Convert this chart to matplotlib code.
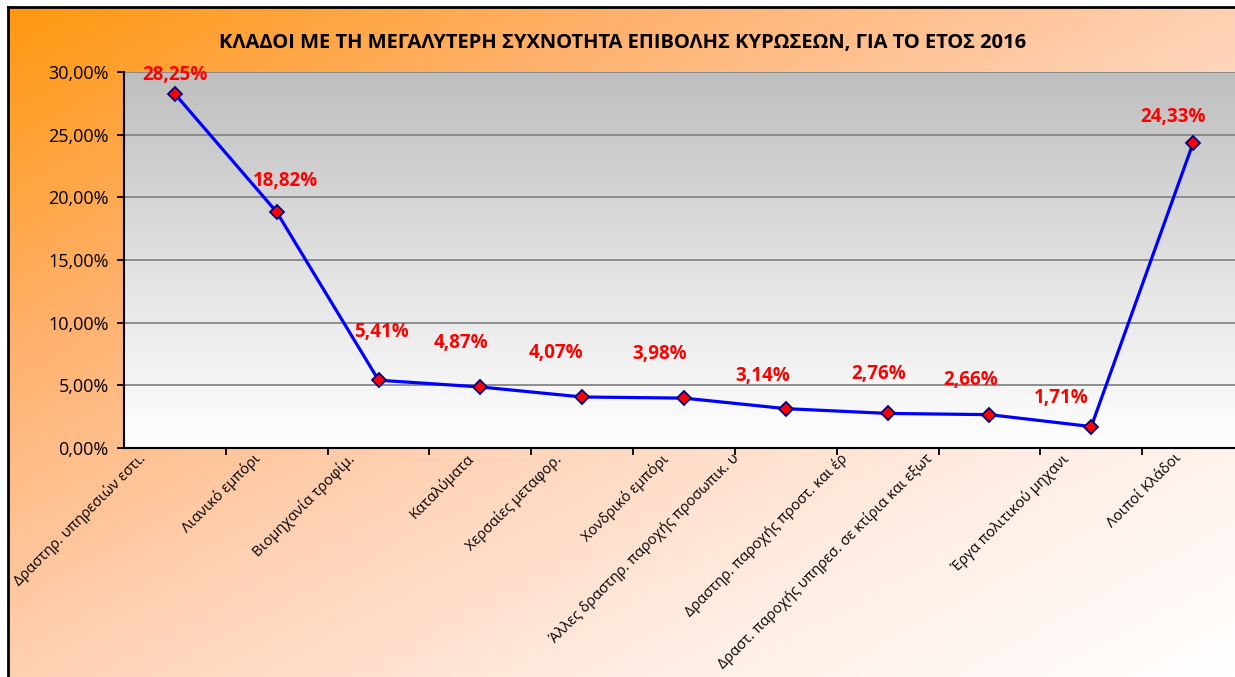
import numpy as np
import matplotlib
matplotlib.use('Agg')
import matplotlib.pyplot as plt
from matplotlib.colors import LinearSegmentedColormap
import matplotlib.transforms as mtransforms
from matplotlib.ticker import FuncFormatter, FixedLocator

plt.rcParams['font.family'] = ['Open Sans', 'DejaVu Sans']

title = "ΚΛΑΔΟΙ ΜΕ ΤΗ ΜΕΓΑΛΥΤΕΡΗ ΣΥΧΝΟΤΗΤΑ ΕΠΙΒΟΛΗΣ ΚΥΡΩΣΕΩΝ, ΓΙΑ ΤΟ ΕΤΟΣ 2016"
categories = [
    "Δραστηρ. υπηρεσιών εστι.",
    "Λιανικό εμπόρι",
    "Βιομηχανία τροφίμ.",
    "Καταλύματα",
    "Χερσαίες μεταφορ.",
    "Χονδρικό εμπόρι",
    "Άλλες δραστηρ. παροχής προσωπικ. υ",
    "Δραστηρ. παροχής προστ. και έρ",
    "Δραστ. παροχής υπηρεσ. σε κτίρια και εξωτ",
    "Έργα πολιτικού μηχανι",
    "Λοιποί Κλάδοι",
]
values = [28.25, 18.82, 5.41, 4.87, 4.07, 3.98, 3.14, 2.76, 2.66, 1.71, 24.33]
yticks = [0, 5, 10, 15, 20, 25, 30]

# layout: data label offsets (pixels, relative to point)
label_offsets = [(0, 19), (9, 31), (3, 48), (-19, 44), (-26, 44), (-24, 44),
                 (-23, 33), (-9, 39), (-19, 35), (-30, 29), (-20, 26)]
# layout: horizontal shift of each rotated category label (pixels)
xlabel_shift = [-37, -24, -31, -14, -28, -23, -54, -48, -65, -30, -19]

W, H = 1235, 677
fig = plt.figure(figsize=(W / 100, H / 100), dpi=100)
fig.patch.set_facecolor('white')

# background frame with diagonal gradient
bg = fig.add_axes([8 / W, 0, 1 - 8 / W, (H - 7) / H])
nx, ny = 400, 250
u = np.linspace(0, 1, nx)[None, :]
v = np.linspace(0, 1, ny)[:, None]
t = 0.5 * u + 0.5 * v
cmap_bg = LinearSegmentedColormap.from_list(
    'bg', [(0, '#FF9810'), (0.25, '#FFB06A'), (0.5, '#FFD0B2'), (0.75, '#FFEDE3'), (1, '#FFFFFF')])
bg.imshow(t, cmap=cmap_bg, extent=[0, 1, 0, 1], origin='upper', aspect='auto',
          vmin=0, vmax=1, interpolation='bilinear')
bg.set_xlim(0, 1)
bg.set_ylim(0, 1)
bg.set_xticks([])
bg.set_yticks([])
for s in ['right', 'bottom']:
    bg.spines[s].set_visible(False)
for s in ['left', 'top']:
    bg.spines[s].set_color('black')
    bg.spines[s].set_linewidth(2)

fig.text(623 / W, 1 - 43 / H, title, ha='center', va='center',
         fontsize=14.5, fontweight='bold', color='black')

# main plot area
ax = fig.add_axes([124 / W, 229 / H, 1120 / W, 376 / H])
ax.set_xlim(-0.5, len(categories) - 0.5)
ax.set_ylim(0, 30)
ax.patch.set_alpha(0)
grad = np.linspace(0, 1, 256)[:, None]
cmap_pa = LinearSegmentedColormap.from_list('pa', [(0, '#BEBEBE'), (0.55, '#E4E4E4'), (1, '#FFFFFF')])
ax.imshow(grad, cmap=cmap_pa, extent=[-0.5, len(categories) - 0.5, 0, 30], origin='upper',
          aspect='auto', zorder=0, interpolation='bilinear')

ax.set_yticks(yticks)
ax.yaxis.set_major_formatter(FuncFormatter(lambda val, pos: f"{val:.2f}".replace('.', ',') + '%'))
ax.yaxis.grid(True, color='#868686', lw=1.3, zorder=1)
ax.set_axisbelow(True)
ax.tick_params(axis='y', length=5, width=1.3, labelsize=13, pad=6, color='black')

x = np.arange(len(categories))
ax.set_xticks(x)
ax.set_xticklabels(categories, rotation=45, ha='right', rotation_mode='anchor', fontsize=10.5)
ax.tick_params(axis='x', which='major', length=0, pad=0)
ax.xaxis.set_minor_locator(FixedLocator(np.arange(0.5, len(categories) - 0.5, 1)))
ax.tick_params(axis='x', which='minor', length=5, width=1.3, color='black')
for lab, sh in zip(ax.get_xticklabels(), xlabel_shift):
    off = mtransforms.ScaledTranslation(sh / 100, -3 / 100, fig.dpi_scale_trans)
    lab.set_transform(lab.get_transform() + off)

for s in ['top', 'right']:
    ax.spines[s].set_visible(False)
for s in ['left', 'bottom']:
    ax.spines[s].set_color('black')
    ax.spines[s].set_linewidth(1.5)
    ax.spines[s].set_zorder(3)

ax.plot(x, values, color='#0000FF', lw=2.3, marker='D', ms=7.5, mfc='#FF0000',
        mec='#000080', mew=1.3, zorder=4, clip_on=False)

for xi, val, (dx, dy) in zip(x, values, label_offsets):
    ax.annotate(f"{val:.2f}".replace('.', ',') + '%', (xi, val), xytext=(dx, dy),
                textcoords='offset pixels', ha='center', va='center',
                fontsize=13.5, fontweight='bold', color='#FF0000', zorder=5,
                annotation_clip=False)

fig.savefig('out.png', dpi=100)
